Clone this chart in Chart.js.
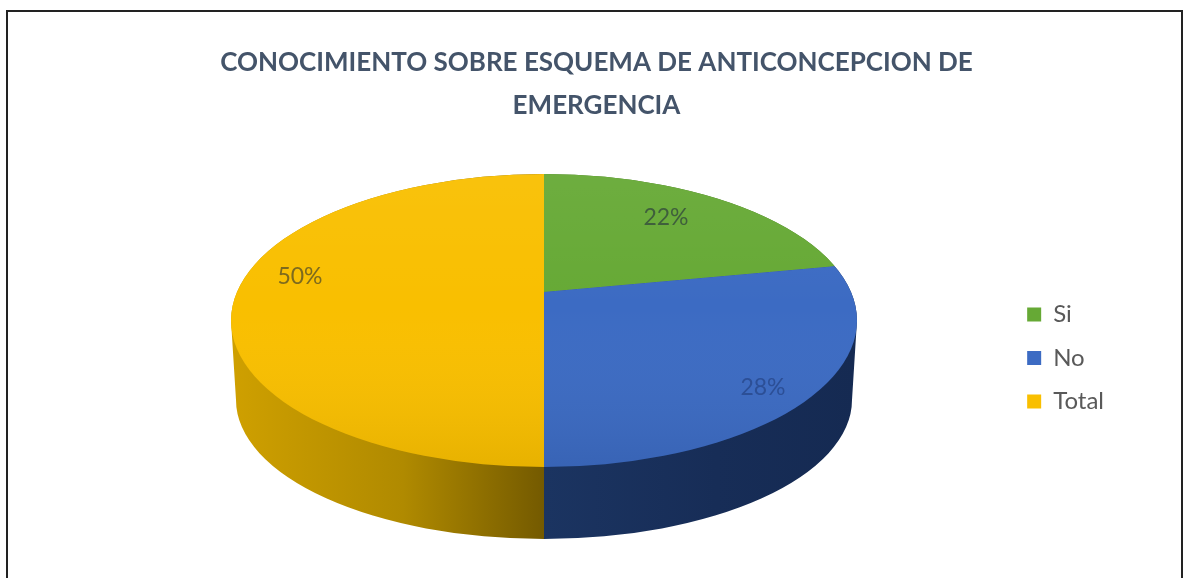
<!DOCTYPE html>
<html>
<head>
<meta charset="utf-8">
<title>Conocimiento</title>
<script src="https://cdn.jsdelivr.net/npm/chart.js@4"></script>
<style>
  html, body { margin: 0; background: #fff; overflow: hidden; }
  #frame { position: absolute; left: 6px; top: 10px; width: 1173px; height: 600px; border: 2px solid #222; }
  #pie { position: absolute; left: 0; top: 0; }
</style>
</head>
<body>
<div id="frame"></div>
<canvas id="pie" width="1184" height="578"></canvas>
<script>
const categories = ['Si', 'No', 'Total'];
const percentages = [22, 28, 50];
const titleLines = ['CONOCIMIENTO SOBRE ESQUEMA DE ANTICONCEPCION DE', 'EMERGENCIA'];

const sliceColors = ['#66a935', '#3c6bc3', '#f9bf00'];
const wallColors = [
    ['#4a7a26', '#4a7a26', '#4a7a26'],
    ['#1b3461', '#172d57', '#152a52'],
    ['#cfa000', '#b08a00', '#745a00']
];
const labelColors = ['#3f5f3c', '#2c4f96', '#7d6a1e'];
const labelSpots = [[666, 218], [763, 388], [300, 277]];

// the pie centre sits above the middle of the ellipse, like the perspective in excel
const view = { cx: 544, cy: 292, sx: 560, sy: 260 };
const topFace = { x: 544, y: 320.5, rx: 313, ry: 146.5 };
const bottomFace = { x: 544, y: 400, rx: 308, ry: 139 };

function ellipsePath(ctx, e) {
    ctx.moveTo(e.x + e.rx, e.y);
    ctx.ellipse(e.x, e.y, e.rx, e.ry, 0, 0, Math.PI * 2);
}

function toView(ctx, arc) {
    ctx.translate(view.cx, view.cy);
    ctx.scale(view.sx / arc.outerRadius, view.sy / arc.outerRadius);
    ctx.translate(-arc.x, -arc.y);
}

const pie3d = {
    id: 'pie3d',
    beforeDatasetsDraw(chart) {
        const ctx = chart.ctx;
        const arcs = chart.getDatasetMeta(0).data;

        // side wall, each slice keeps its own part of it
        arcs.forEach((arc, i) => {
            ctx.save();
            ctx.beginPath();
            ellipsePath(ctx, topFace);
            ellipsePath(ctx, bottomFace);
            ctx.moveTo(topFace.x - topFace.rx, topFace.y);
            ctx.lineTo(topFace.x + topFace.rx, topFace.y);
            ctx.lineTo(bottomFace.x + bottomFace.rx, bottomFace.y);
            ctx.lineTo(bottomFace.x - bottomFace.rx, bottomFace.y);
            ctx.closePath();
            ctx.clip();

            ctx.save();
            toView(ctx, arc);
            ctx.beginPath();
            ctx.moveTo(arc.x, arc.y);
            ctx.arc(arc.x, arc.y, arc.outerRadius, arc.startAngle, arc.endAngle);
            ctx.closePath();
            ctx.restore();

            const leftSide = (arc.startAngle + arc.endAngle) / 2 > Math.PI / 2;
            const g = ctx.createLinearGradient(leftSide ? 231 : 544, 0, leftSide ? 544 : 857, 0);
            g.addColorStop(0, wallColors[i][0]);
            g.addColorStop(0.55, wallColors[i][1]);
            g.addColorStop(1, wallColors[i][2]);
            ctx.fillStyle = g;
            ctx.fill();
            ctx.restore();
        });

        // top face: the library draws the arcs, stretched and cut to the ellipse
        ctx.save();
        ctx.beginPath();
        ellipsePath(ctx, topFace);
        ctx.clip();
        toView(ctx, arcs[0]);
    },
    afterDatasetsDraw(chart) {
        const ctx = chart.ctx;
        ctx.restore();

        ctx.save();
        ctx.beginPath();
        ellipsePath(ctx, topFace);
        ctx.clip();
        const shade = ctx.createLinearGradient(0, 174, 0, 467);
        shade.addColorStop(0, 'rgba(255,255,255,0.05)');
        shade.addColorStop(0.45, 'rgba(255,255,255,0)');
        shade.addColorStop(1, 'rgba(0,0,0,0.07)');
        ctx.fillStyle = shade;
        ctx.fillRect(200, 160, 700, 320);
        ctx.restore();

        ctx.save();
        ctx.font = '23px Lato';
        ctx.textAlign = 'center';
        ctx.textBaseline = 'middle';
        percentages.forEach((v, i) => {
            ctx.fillStyle = labelColors[i];
            ctx.fillText(v + '%', labelSpots[i][0], labelSpots[i][1]);
        });
        ctx.restore();
    }
};

new Chart(document.getElementById('pie'), {
    type: 'pie',
    data: {
        labels: categories,
        datasets: [{
            data: percentages,
            backgroundColor: sliceColors,
            borderWidth: 0,
            clip: false
        }]
    },
    options: {
        responsive: false,
        animation: false,
        // negative bottom is only there to bring the legend down level with the pie
        layout: { padding: { left: 79, right: 70, top: 41, bottom: -97 } },
        plugins: {
            tooltip: { enabled: false },
            title: {
                display: true,
                text: titleLines,
                color: '#44546a',
                font: { family: 'Lato', size: 26, weight: 'bold', lineHeight: 1.65 },
                padding: { top: 0, bottom: 10 }
            },
            legend: {
                position: 'right',
                labels: {
                    color: '#595959',
                    font: { family: 'Lato', size: 24 },
                    boxWidth: 14,
                    boxHeight: 14,
                    padding: 19.5
                }
            }
        }
    },
    plugins: [pie3d]
});
</script>
</body>
</html>
